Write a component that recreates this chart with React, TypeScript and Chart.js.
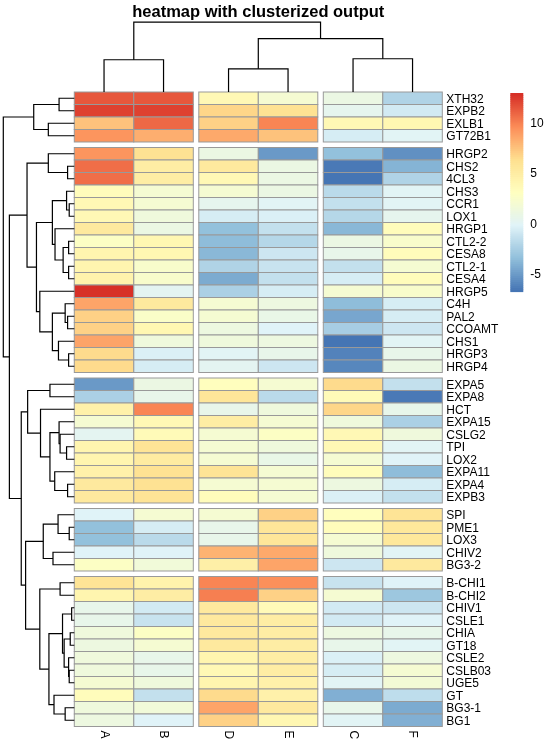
import React, { useEffect, useRef } from "react";
import { Chart, registerables } from "chart.js";

Chart.register(...registerables);

// ---------------- data ----------------
const chartTitle = "heatmap with clusterized output";

const columnLabels = ["A", "B", "D", "E", "C", "F"];

const rowLabels = [
  "XTH32", "EXPB2", "EXLB1", "GT72B1",
  "HRGP2", "CHS2", "4CL3", "CHS3", "CCR1", "LOX1", "HRGP1", "CTL2-2", "CESA8", "CTL2-1", "CESA4", "HRGP5",
  "C4H", "PAL2", "CCOAMT", "CHS1", "HRGP3", "HRGP4",
  "EXPA5", "EXPA8", "HCT", "EXPA15", "CSLG2", "TPI", "LOX2", "EXPA11", "EXPA4", "EXPB3",
  "SPI", "PME1", "LOX3", "CHIV2", "BG3-2",
  "B-CHI1", "B-CHI2", "CHIV1", "CSLE1", "CHIA", "GT18", "CSLE2", "CSLB03", "UGE5", "GT", "BG3-1", "BG1",
];

const valuesA = [
  11.5, 12.3, 7.5, 9.3,
  9.3, 10.8, 10.8, 3.5, 3.8, 3.8, 5.5, 2.8, 4.2, 4.2, 4.5, 13.0,
  8.7, 7.0, 7.0, 8.7, 6.5, 6.5,
  -5.0, -2.3, 4.7, 2.0, 0.2, 4.3, 4.3, 4.7, 5.5, 5.5,
  -0.1, -3.3, -3.2, -0.1, 2.8,
  6.0, 4.2, 0.7, 0.7, 1.5, 1.2, 1.5, 1.5, 2.0, 3.5, 1.5, 1.2,
];
const valuesB = [
  11.5, 12.3, 11.0, 8.3,
  6.3, 5.0, 5.0, 2.0, 2.0, 1.5, 1.0, 4.0, 4.0, 2.5, 2.5, 0.2,
  5.5, 2.7, 4.0, 1.5, -0.3, -0.5,
  1.0, 0.7, 10.0, 3.8, 3.7, 6.0, 5.3, 6.2, 6.2, 6.0,
  2.0, -0.5, -1.7, -0.1, 1.6,
  4.5, 5.0, -0.7, -1.0, 2.8, 2.0, 0.7, 0.7, 1.5, -1.2, 1.7, -0.1,
];
const valuesD = [
  3.8, 6.8, 7.0, 8.5,
  1.0, 5.5, 3.8, 2.0, 0.5, -0.5, -3.2, -3.5, -3.6, -2.0, -4.2, -2.3,
  2.0, 2.0, 1.3, 1.5, 0.0, 0.2,
  3.2, 5.8, 0.7, 5.0, 2.0, 2.0, 2.0, 6.0, 2.0, 3.5,
  2.0, 0.6, 0.6, 8.2, 4.8,
  10.0, 10.2, 5.5, 5.5, 5.5, 5.5, 4.3, 3.8, 4.3, 6.5, 8.7, 7.0,
];
const valuesE = [
  2.0, 6.3, 10.0, 7.5,
  -5.0, 1.0, 1.0, 1.0, 0.0, -0.2, -1.2, -1.8, -0.8, -1.0, -1.2, -0.5,
  1.2, 0.8, -0.1, 1.2, 0.7, -0.8,
  2.0, -1.7, 1.5, 2.0, 2.8, 1.5, 0.8, 2.0, 2.0, 2.0,
  7.0, 5.8, 5.8, 8.5, 8.8,
  9.5, 7.0, 3.6, 5.0, 5.0, 5.0, 5.0, 5.0, 4.7, 4.7, 5.5, 4.0,
];
const valuesC = [
  1.0, 0.5, 3.8, -0.5,
  -3.3, -6.5, -6.7, -1.7, -1.2, -1.8, -3.7, 1.0, 0.7, -1.2, -0.5, 2.0,
  -3.5, -4.5, -2.5, -6.7, -6.0, -5.8,
  6.5, 3.6, 6.8, 1.5, 3.8, 3.8, 2.0, 3.5, 1.2, -0.3,
  3.2, 3.5, 2.0, 1.5, -0.8,
  -1.0, 2.0, -0.7, -0.7, 1.2, 0.7, -0.3, -0.5, 0.0, -4.0, 0.7, 0.0,
];
const valuesF = [
  -2.0, -0.7, 4.0, 0.0,
  -5.5, -3.8, -2.0, 0.0, 0.0, 0.5, 3.5, 2.5, 3.5, 2.0, 3.5, 2.5,
  -0.5, -0.5, -0.8, 0.0, 0.7, 1.0,
  -1.2, -6.5, 0.7, -2.2, 1.5, 0.0, -0.1, -3.5, -0.4, -1.3,
  6.0, 5.7, 5.7, 0.0, 5.5,
  -0.1, -2.8, -0.9, -0.1, 0.7, 0.0, 1.2, 2.0, 1.8, -1.4, -4.2, -4.0,
];

// gaps (cutree) : after how many rows / columns a gap is drawn
const rowGapsAfter = [4, 22, 32, 37];
const colGapsAfter = [2, 4];

// hierarchical clustering merges: [left, right, height]; numbers refer to earlier merges
type Ref = string | number;
const rowMerges: [Ref, Ref, number][] = [
  ["XTH32", "EXPB2", 15], ["EXLB1", "GT72B1", 25.6], [0, 1, 40],
  ["CHS2", "4CL3", 6.6], ["HRGP2", 3, 25.6],
  ["CCR1", "LOX1", 5], ["CHS3", 5, 7.6],
  ["CTL2-2", "CESA8", 5.6], ["CTL2-1", "CESA4", 5.6], [7, 8, 11], ["HRGP1", 9, 19], [6, 10, 21.6],
  ["PAL2", "CCOAMT", 6.6], ["C4H", 12, 9], ["HRGP3", "HRGP4", 5.6], ["CHS1", 14, 15.6], [13, 15, 21.6],
  ["HRGP5", 16, 34], [11, 17, 37.3], [4, 18, 46.6],
  ["EXPA5", "EXPA8", 24], ["TPI", "LOX2", 7.6], ["CSLG2", 21, 14], ["EXPA15", 22, 15],
  ["EXPA4", "EXPB3", 6.6], ["EXPA11", 24, 19.3], [23, 25, 24], ["HCT", 26, 33.3], [20, 27, 46],
  ["PME1", "LOX3", 5], ["SPI", 29, 16], ["CHIV2", "BG3-2", 21], [30, 31, 30.6],
  ["B-CHI1", "B-CHI2", 14], ["CHIV1", "CSLE1", 2.6], ["CHIA", "GT18", 4], ["CSLB03", "UGE5", 5],
  ["CSLE2", 36, 5.6], [35, 37, 10], [34, 38, 11.6], ["BG3-1", "BG1", 9], ["GT", 40, 20],
  [39, 41, 25], [33, 42, 34], [32, 43, 48], [28, 44, 52.3], [19, 45, 64], [2, 46, 70],
];
const colMerges: [Ref, Ref, number][] = [
  ["A", "B", 32], ["D", "E", 23], ["C", "F", 33], [1, 2, 53], [0, 3, 69.3],
];

const legendTicks = [-5, 0, 5, 10];
const paletteStops = ["#4575B4", "#91BFDB", "#E0F3F8", "#FFFFBF", "#FEE090", "#FC8D59", "#D73027"];

// ---------------- layout / style constants ----------------
const ROW_GAP = 0.44; // in row units
const COL_GAP = 0.0924; // in column units
const ROW_TREE_SPAN = 1.193; // column units used by the row dendrogram
const COL_TREE_SPAN = 5.584; // row units used by the column dendrogram
const FONT = '"Liberation Sans", Arial, sans-serif';
const BORDER = "#999999";

const columnValues = [valuesA, valuesB, valuesD, valuesE, valuesC, valuesF];
const allValues = columnValues.flat();
const vMin = Math.min(...allValues);
const vMax = Math.max(...allValues);

function hexToRgb(h: string) {
  const n = parseInt(h.slice(1), 16);
  return [(n >> 16) & 255, (n >> 8) & 255, n & 255];
}
const stopRgb = paletteStops.map(hexToRgb);
const palette: string[] = [];
for (let k = 0; k < 100; k++) {
  const t = (k / 99) * (stopRgb.length - 1);
  const i = Math.min(Math.floor(t), stopRgb.length - 2);
  const f = t - i;
  const c = stopRgb[i].map((v, j) => Math.round(v + (stopRgb[i + 1][j] - v) * f));
  palette.push(`rgb(${c[0]},${c[1]},${c[2]})`);
}
function colorFor(v: number) {
  let k = Math.floor(((v - vMin) / (vMax - vMin)) * 100);
  if (k > 99) k = 99;
  if (k < 0) k = 0;
  return palette[k];
}

const rowTop = (i: number) => i + ROW_GAP * rowGapsAfter.filter((g) => g <= i).length;
const colLeft = (j: number) => j + COL_GAP * colGapsAfter.filter((g) => g <= j).length;
const rowSpan = rowLabels.length + ROW_GAP * rowGapsAfter.length;
const colSpan = columnLabels.length + COL_GAP * colGapsAfter.length;

function treeSegments(merges: [Ref, Ref, number][], leaves: string[], leafPos: (i: number) => number) {
  const nodes: { pos: number; h: number }[] = [];
  const get = (r: Ref) => (typeof r === "number" ? nodes[r] : { pos: leafPos(leaves.indexOf(r)), h: 0 });
  const segs: { a: { pos: number; h: number }; b: { pos: number; h: number }; h: number }[] = [];
  merges.forEach(([l, r, h]) => {
    const a = get(l);
    const b = get(r);
    nodes.push({ pos: (a.pos + b.pos) / 2, h });
    segs.push({ a, b, h });
  });
  return segs;
}

export default function App() {
  const ref = useRef<HTMLCanvasElement | null>(null);

  useEffect(() => {
    const canvas = ref.current;
    if (!canvas) return;

    const rowMax = Math.max(...rowMerges.map((m) => m[2]));
    const colMax = Math.max(...colMerges.map((m) => m[2]));
    const hx = (h: number) => -(h / rowMax) * ROW_TREE_SPAN;
    const hy = (h: number) => -(h / colMax) * COL_TREE_SPAN;

    const lineStyle = {
      showLine: true,
      pointRadius: 0,
      borderColor: "#000000",
      borderWidth: 1.2,
      fill: false,
      tension: 0,
      clip: false as const,
    };

    const rowSegs = treeSegments(rowMerges, rowLabels, (i) => rowTop(i) + 0.5);
    const colSegs = treeSegments(colMerges, columnLabels, (j) => colLeft(j) + 0.5);

    const datasets: any[] = [];
    rowSegs.forEach((s) =>
      datasets.push({
        ...lineStyle,
        data: [
          { x: hx(s.a.h), y: s.a.pos },
          { x: hx(s.h), y: s.a.pos },
          { x: hx(s.h), y: s.b.pos },
          { x: hx(s.b.h), y: s.b.pos },
        ],
      })
    );
    colSegs.forEach((s) =>
      datasets.push({
        ...lineStyle,
        data: [
          { x: s.a.pos, y: hy(s.a.h) },
          { x: s.a.pos, y: hy(s.h) },
          { x: s.b.pos, y: hy(s.h) },
          { x: s.b.pos, y: hy(s.b.h) },
        ],
      })
    );

    const heatmapPlugin = {
      id: "heatmapCells",
      beforeDatasetsDraw(chart: any) {
        const ctx = chart.ctx as CanvasRenderingContext2D;
        const xs = chart.scales.x;
        const ys = chart.scales.y;
        ctx.save();
        ctx.lineWidth = 1;
        ctx.strokeStyle = BORDER;
        columnValues.forEach((vals, j) => {
          const x0 = xs.getPixelForValue(colLeft(j));
          const x1 = xs.getPixelForValue(colLeft(j) + 1);
          vals.forEach((v, i) => {
            const y0 = ys.getPixelForValue(rowTop(i));
            const y1 = ys.getPixelForValue(rowTop(i) + 1);
            ctx.fillStyle = colorFor(v);
            ctx.fillRect(x0, y0, x1 - x0, y1 - y0);
            ctx.strokeRect(x0, y0, x1 - x0, y1 - y0);
          });
        });
        ctx.restore();
      },
      afterDraw(chart: any) {
        const ctx = chart.ctx as CanvasRenderingContext2D;
        const xs = chart.scales.x;
        const ys = chart.scales.y;
        const left = xs.getPixelForValue(0);
        const right = xs.getPixelForValue(colSpan);
        const top = ys.getPixelForValue(0);
        const bottom = ys.getPixelForValue(rowSpan);
        ctx.save();
        ctx.fillStyle = "#000000";

        // title
        ctx.font = `bold 16.5px ${FONT}`;
        ctx.textAlign = "center";
        ctx.textBaseline = "middle";
        ctx.fillText(chartTitle, (left + right) / 2, 12.5);

        // row labels
        ctx.font = `12px ${FONT}`;
        ctx.textAlign = "left";
        rowLabels.forEach((lab, i) => {
          ctx.fillText(lab, right + 4, ys.getPixelForValue(rowTop(i) + 0.5) + 1);
        });

        // column labels (rotated)
        columnLabels.forEach((lab, j) => {
          ctx.save();
          ctx.translate(xs.getPixelForValue(colLeft(j) + 0.5), bottom + 4);
          ctx.rotate(Math.PI / 2);
          ctx.textAlign = "left";
          ctx.textBaseline = "middle";
          ctx.fillText(lab, 0, 0);
          ctx.restore();
        });

        // colour legend
        const lx = right + 68;
        const lw = 13;
        const lt = top + 1.3;
        const lh = 198.5;
        for (let k = 0; k < 100; k++) {
          const y1 = lt + lh - (k / 100) * lh;
          const y0 = lt + lh - ((k + 1) / 100) * lh;
          ctx.fillStyle = palette[k];
          ctx.fillRect(lx, y0 - 0.3, lw, y1 - y0 + 0.6);
        }
        ctx.fillStyle = "#000000";
        ctx.font = `12px ${FONT}`;
        ctx.textAlign = "left";
        ctx.textBaseline = "middle";
        legendTicks.forEach((t) => {
          const y = lt + ((vMax - t) / (vMax - vMin)) * lh;
          ctx.fillText(String(t), lx + 20, y);
        });
        ctx.restore();
      },
    };

    const chart = new Chart(canvas, {
      type: "scatter",
      data: { datasets },
      options: {
        animation: false,
        responsive: false,
        devicePixelRatio: 1,
        events: [],
        layout: { padding: { left: 3.3, right: 107.7, top: 22.2, bottom: 23.5 } },
        scales: {
          x: { type: "linear", min: -ROW_TREE_SPAN, max: colSpan, display: false },
          y: { type: "linear", min: -COL_TREE_SPAN, max: rowSpan, reverse: true, display: false },
        },
        plugins: {
          legend: { display: false },
          tooltip: { enabled: false },
          title: { display: false },
        },
      },
      plugins: [heatmapPlugin],
    });
    return () => chart.destroy();
  }, []);

  return (
    <div style={{ position: "fixed", left: 0, top: 0, width: 550, height: 750, background: "#ffffff" }}>
      <canvas ref={ref} width={550} height={750} style={{ display: "block" }} />
    </div>
  );
}
